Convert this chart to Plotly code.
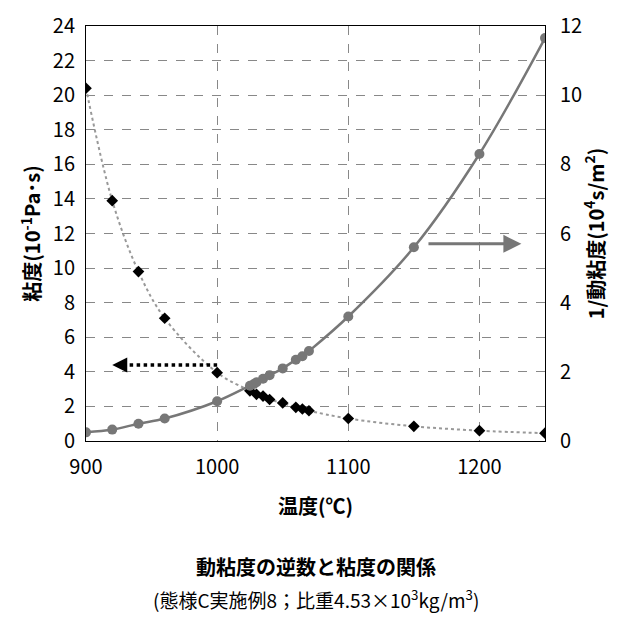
import plotly.graph_objects as go

temp_v = [900, 920, 940, 960, 1000, 1025, 1030, 1035, 1040, 1050, 1060, 1065, 1070, 1100, 1150, 1200, 1250]
visc = [20.4, 13.9, 9.8, 7.1, 3.95, 2.9, 2.7, 2.6, 2.4, 2.2, 1.95, 1.85, 1.75, 1.3, 0.85, 0.6, 0.45]
temp_r = [900, 920, 940, 960, 1000, 1025, 1028, 1030, 1035, 1040, 1050, 1060, 1065, 1070, 1100, 1150, 1200, 1250]
recip = [0.25, 0.33, 0.5, 0.65, 1.15, 1.6, 1.65, 1.7, 1.8, 1.9, 2.1, 2.35, 2.45, 2.6, 3.6, 5.6, 8.3, 11.65]

F = "Noto Sans CJK JP"
fig = go.Figure()
fig.add_trace(go.Scatter(x=temp_v, y=visc, mode="lines+markers", line=dict(color="#999", width=2, dash="dot", shape="spline"),
                         marker=dict(symbol="diamond", size=9, color="black")))
fig.add_trace(go.Scatter(x=temp_r, y=recip, yaxis="y2", mode="lines+markers", line=dict(color="#777", width=2.5, shape="spline"),
                         marker=dict(symbol="circle", size=10, color="#777")))
fig.add_shape(type="line", x0=1000, x1=928, y0=4.4, y1=4.4, xref="x", yref="y",
              line=dict(color="black", width=3.5, dash="dot"))
fig.add_annotation(x=920, y=4.4, ax=930, ay=4.4, xref="x", yref="y", axref="x", ayref="y", showarrow=True,
                   arrowhead=2, arrowsize=1.2, arrowwidth=2.5, arrowcolor="black", text="")
fig.add_annotation(x=1232, y=5.7, ax=1160, ay=5.7, xref="x", yref="y2", axref="x", ayref="y2", showarrow=True,
                   arrowhead=2, arrowsize=1.2, arrowwidth=3, arrowcolor="#777", text="")
fig.add_annotation(x=0.5, y=-0.342, xref="paper", yref="paper", showarrow=False, text="<b>動粘度の逆数と粘度の関係</b>",
                   font=dict(size=20, family=F, color="black"))
fig.add_annotation(x=0.5, y=-0.42, xref="paper", yref="paper", showarrow=False,
                   text="(態様C実施例8；比重4.53×10<sup>3</sup>kg/m<sup>3</sup>)", font=dict(size=19, family=F, color="black"))
grid = dict(showgrid=True, gridcolor="#888", griddash="dash", gridwidth=1)
tf = dict(size=20, family=F, color="black")
fig.update_layout(
    width=640, height=636, showlegend=False, plot_bgcolor="white", paper_bgcolor="white",
    margin=dict(l=78, r=103, t=18, b=203, autoexpand=False), font=tf,
    xaxis=dict(range=[900, 1250], tickvals=[900, 1000, 1100, 1200], **grid, showline=True, linecolor="black", mirror=True,
               title=dict(text="<b>温度(℃)</b>", font=tf, standoff=20), ticks="outside", ticklen=8, tickcolor="white",
               zeroline=False, automargin=False, tickfont=tf),
    yaxis=dict(range=[0, 24], dtick=2, **grid, showline=True, linecolor="black", zeroline=False, automargin=False,
               ticks="outside", ticklen=6, tickcolor="white", tickfont=tf,
               title=dict(text="<b>粘度(10<sup>-1</sup>Pa･s)</b>", font=tf, standoff=6)),
    yaxis2=dict(range=[0, 12], dtick=2, overlaying="y", side="right", showgrid=False, showline=True, linecolor="black",
                ticks="outside", ticklen=10, tickcolor="white", tickfont=tf, automargin=False,
                title=dict(text="<b>1/動粘度(10<sup>4</sup>s/m<sup>2</sup>)</b>", font=tf, standoff=8), zeroline=False),
)
fig.write_html("out.html")
